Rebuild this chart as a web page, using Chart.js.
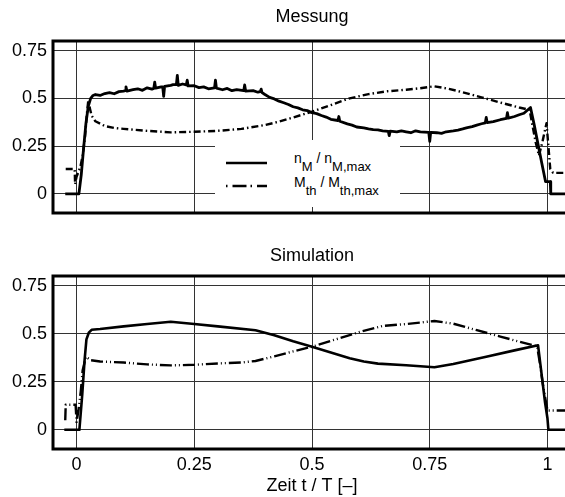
<!DOCTYPE html>
<html>
<head>
<meta charset="utf-8">
<script src="https://cdn.jsdelivr.net/npm/chart.js@4/dist/chart.umd.min.js"></script>
<style>
html,body{margin:0;padding:0;background:#fff;overflow:hidden;width:565px;height:497px;}
#wrap{position:relative;width:571px;height:497px;}
canvas{position:absolute;left:0;}
#c1{top:0;}
#c2{top:230px;}
#legend{position:absolute;left:215px;top:140px;width:185px;height:67px;background:#fff;font-family:'Liberation Sans',Arial,sans-serif;font-size:14px;color:#000;}
#legend svg{position:absolute;left:0;top:0;}
.lt{position:absolute;left:79px;line-height:16px;white-space:nowrap;}
.s{font-size:13px;vertical-align:-8px;}
</style>
</head>
<body>
<div id="wrap">
<canvas id="c1" width="571" height="230"></canvas>
<canvas id="c2" width="571" height="267"></canvas>
<div id="legend">
  <svg width="185" height="67">
    <line x1="11" y1="23" x2="52" y2="23" stroke="#000" stroke-width="2.5"/>
    <line x1="11" y1="46" x2="52" y2="46" stroke="#000" stroke-width="2.5" stroke-dasharray="1.5,5,14,4"/>
  </svg>
  <div class="lt" style="top:10px">n<span class="s">M</span> / n<span class="s">M,max</span></div>
  <div class="lt" style="top:34px">M<span class="s">th</span> / M<span class="s">th,max</span></div>
</div>
</div>
<script>
// ---- data (t/T, value) ----
const xTicks = [0, 0.25, 0.5, 0.75, 1];
const xTickLabels = ['0', '0.25', '0.5', '0.75', '1'];
const yTicks = [0, 0.25, 0.5, 0.75];
const yTickLabels = ['0', '0.25', '0.5', '0.75'];
const titles = ['Messung', 'Simulation'];
const xTitle = 'Zeit t / T [–]';

const messung_nM = [
[-0.024,0],[0.005,0],[0.010,0.10],[0.015,0.24],[0.020,0.37],[0.025,0.46],[0.030,0.50],[0.035,0.515],[0.040,0.52],[0.050,0.515],
[0.060,0.525],[0.070,0.53],[0.080,0.524],[0.090,0.535],[0.100,0.538],[0.103,0.54],[0.105,0.56],[0.107,0.538],[0.120,0.545],[0.130,0.55],
[0.140,0.542],[0.150,0.555],[0.160,0.548],[0.164,0.552],[0.166,0.585],[0.168,0.553],[0.180,0.56],[0.183,0.56],[0.185,0.51],[0.187,0.562],
[0.200,0.568],[0.205,0.572],[0.212,0.572],[0.214,0.62],[0.216,0.568],[0.225,0.575],[0.233,0.57],[0.235,0.595],[0.237,0.565],[0.250,0.566],
[0.260,0.556],[0.270,0.56],[0.280,0.55],[0.293,0.555],[0.295,0.595],[0.297,0.553],[0.310,0.545],[0.320,0.552],[0.330,0.54],[0.340,0.546],
[0.355,0.54],[0.357,0.57],[0.359,0.538],[0.375,0.54],[0.385,0.532],[0.390,0.535],[0.392,0.548],[0.394,0.53],[0.400,0.52],[0.410,0.505],
[0.420,0.497],[0.430,0.485],[0.440,0.477],[0.450,0.468],[0.460,0.456],[0.470,0.45],[0.480,0.44],[0.490,0.436],[0.500,0.425],[0.510,0.42],
[0.520,0.41],[0.530,0.402],[0.540,0.39],[0.555,0.384],[0.557,0.405],[0.559,0.38],[0.575,0.366],[0.585,0.36],[0.595,0.35],[0.610,0.345],
[0.620,0.34],[0.630,0.336],[0.640,0.335],[0.650,0.33],[0.662,0.327],[0.664,0.305],[0.666,0.328],[0.680,0.324],[0.690,0.33],[0.700,0.325],
[0.710,0.32],[0.720,0.33],[0.730,0.324],[0.748,0.322],[0.750,0.275],[0.752,0.322],[0.765,0.32],[0.775,0.317],[0.785,0.325],[0.800,0.33],
[0.810,0.334],[0.820,0.34],[0.830,0.347],[0.840,0.352],[0.850,0.36],[0.860,0.367],[0.868,0.372],[0.870,0.40],[0.872,0.373],[0.885,0.378],
[0.900,0.388],[0.913,0.395],[0.915,0.425],[0.917,0.397],[0.930,0.405],[0.940,0.414],[0.950,0.422],[0.964,0.452],[0.972,0.36],[0.980,0.26],
[0.988,0.16],[0.996,0.064],[1.006,0.064],[1.007,0],[1.050,0]
];

const messung_Mth = [
[-0.023,0.13],[-0.015,0.13],[-0.004,0.13],[-0.003,0.05],[0.0,0.09],[0.008,0.14],[0.013,0.2],[0.018,0.3],[0.022,0.42],[0.025,0.49],
[0.028,0.45],[0.032,0.41],[0.04,0.38],[0.06,0.355],[0.08,0.345],[0.1,0.34],[0.15,0.33],[0.2,0.322],[0.25,0.325],[0.3,0.33],
[0.35,0.34],[0.4,0.36],[0.43,0.378],[0.46,0.4],[0.5,0.43],[0.54,0.465],[0.58,0.5],[0.62,0.522],[0.66,0.537],[0.7,0.545],
[0.73,0.553],[0.76,0.563],[0.79,0.55],[0.82,0.532],[0.86,0.505],[0.9,0.478],[0.94,0.452],[0.962,0.44],[0.968,0.36],[0.975,0.27],
[0.982,0.2],[0.99,0.28],[0.998,0.37],[1.002,0.25],[1.006,0.13],[1.012,0.11],[1.05,0.11]
];

const simulation_nM = [
[-0.026,0],[0.006,0],[0.012,0.18],[0.017,0.36],[0.021,0.47],[0.026,0.505],[0.032,0.52],[0.05,0.524],[0.1,0.538],[0.15,0.55],
[0.2,0.562],[0.25,0.55],[0.3,0.538],[0.38,0.518],[0.42,0.492],[0.46,0.46],[0.5,0.432],[0.54,0.402],[0.58,0.372],[0.61,0.355],
[0.64,0.344],[0.7,0.336],[0.76,0.325],[0.8,0.342],[0.87,0.38],[0.93,0.413],[0.98,0.44],[0.985,0.34],[0.99,0.24],[0.995,0.14],
[1.0,0.06],[1.002,0],[1.05,0]
];

const simulation_Mth = [
[-0.024,0.05],[-0.023,0.13],[-0.01,0.13],[-0.002,0.13],[0.0,0.04],[0.004,0.1],[0.009,0.2],[0.013,0.31],[0.02,0.38],[0.03,0.362],
[0.05,0.355],[0.1,0.35],[0.15,0.34],[0.2,0.335],[0.25,0.338],[0.3,0.345],[0.35,0.35],[0.38,0.358],[0.42,0.382],[0.46,0.408],
[0.5,0.432],[0.55,0.47],[0.6,0.508],[0.65,0.54],[0.7,0.55],[0.76,0.566],[0.8,0.552],[0.85,0.518],[0.9,0.485],[0.95,0.452],
[0.978,0.435],[0.985,0.33],[0.99,0.24],[0.995,0.17],[1.0,0.1],[1.05,0.1]
];

// ---- chart setup ----
Chart.defaults.font.family = "'Liberation Sans', Arial, Helvetica, sans-serif";
Chart.defaults.color = '#000';

const toXY = arr => arr.map(p => ({x: p[0], y: p[1]}));

const framePlugin = {
  id: 'frame',
  afterDraw(chart) {
    const {ctx, chartArea: a} = chart;
    ctx.save();
    ctx.strokeStyle = '#000';
    ctx.lineWidth = 3;
    ctx.strokeRect(a.left, a.top, a.right - a.left, a.bottom - a.top);
    ctx.restore();
  }
};

function makeChart(id, title, nData, mData, isBottom, titlePad, mDash) {
  return new Chart(document.getElementById(id), {
    type: 'line',
    data: {
      datasets: [
        {label: 'n_M / n_M,max', data: toXY(nData), borderColor: '#000', borderWidth: isBottom ? 2.6 : 2.8,
         borderJoinStyle: 'round', pointRadius: 0, tension: 0, fill: false},
        {label: 'M_th / M_th,max', data: toXY(mData), borderColor: '#000', borderWidth: 2.4,
         borderJoinStyle: 'round', borderDash: mDash, pointRadius: 0, tension: 0, fill: false}
      ]
    },
    options: {
      responsive: false,
      animation: false,
      devicePixelRatio: 1,
      layout: {padding: 0},
      plugins: {
        legend: {display: false},
        tooltip: {enabled: false},
        title: {display: true, text: title, fullSize: false, color: '#000',
                font: {size: 18, weight: 'normal'}, padding: titlePad}
      },
      scales: {
        x: {
          type: 'linear', min: -0.05, max: 1.05,
          afterBuildTicks: s => { s.ticks = xTicks.map(v => ({value: v})); },
          afterFit: s => { s.height = isBottom ? 48 : 17; },
          grid: {color: '#333', lineWidth: 1, drawTicks: false},
          border: {display: false},
          ticks: {display: isBottom, padding: 5, font: {size: 18},
                  callback: (v, i) => xTickLabels[i]},
          title: {display: isBottom, text: xTitle, font: {size: 18}, padding: {top: 0, bottom: 0}}
        },
        y: {
          min: -0.1, max: 0.8,
          afterBuildTicks: s => { s.ticks = yTicks.map(v => ({value: v})); },
          afterFit: s => { s.width = 53; },
          grid: {color: '#333', lineWidth: 1, drawTicks: false},
          border: {display: false},
          ticks: {padding: 6, font: {size: 18}, callback: (v, i) => yTickLabels[i]}
        }
      }
    },
    plugins: [framePlugin]
  });
}

makeChart('c1', titles[0], messung_nM, messung_Mth, false, {top: 6.5, bottom: 12.9}, [7, 3, 1.5, 3]);
makeChart('c2', titles[1], simulation_nM, simulation_Mth, true, {top: 15.2, bottom: 9.2}, [12, 3, 1, 3, 1, 3]);
</script>
</body>
</html>
